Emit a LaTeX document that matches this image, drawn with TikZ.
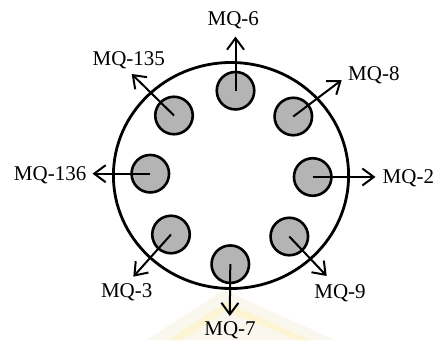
\documentclass[tikz,border=0pt]{standalone}
\usepackage{fontspec}
\setmainfont{Liberation Serif}
\usetikzlibrary{arrows.meta}
\definecolor{sensorfill}{RGB}{180,180,180}
\definecolor{markcream}{RGB}{250,248,238}
\definecolor{markyellow}{RGB}{252,244,210}
\tikzset{
  body/.style={line width=2.8pt, draw=black},
  sensor/.style={circle, draw=black, line width=2.6pt, fill=sensorfill,
                 minimum size=37.5pt, inner sep=0pt},
  ptr/.style={line width=2pt, -{Straight Barb[length=11.5pt,width=17pt,line width=2pt]}},
  lbl/.style={inner sep=0pt, font=\fontsize{21}{24}\selectfont}
}
\begin{document}
\begin{tikzpicture}[x=1pt,y=-1pt]
  \useasboundingbox (0,0) rectangle (435,340);
  \fill[white] (0,0) rectangle (435,340);

  % faint chevron mark in the background
  \fill[markcream] (146,340) -- (224,290) -- (335,340) -- cycle;
  \fill[markyellow] (168,340) -- (226,302) -- (310,340) -- (296,340) -- (226,311) -- (182,340) -- cycle;

  % housing
  \draw[body] (231,175.5) ellipse [x radius=117.6pt, y radius=113pt];

  % sensors
  \node[sensor] (s6)   at (235.5, 90.7) {};
  \node[sensor] (s8)   at (293.3,116.5) {};
  \node[sensor] (s2)   at (312.7,177)   {};
  \node[sensor] (s9)   at (289.3,236.5) {};
  \node[sensor] (s7)   at (230.3,264.2) {};
  \node[sensor] (s3)   at (171,  234.5) {};
  \node[sensor] (s136) at (150.3,173.7) {};
  \node[sensor] (s135) at (174,  115.5) {};

  % arrow tips
  \coordinate (t6)   at (235.5, 36.5);
  \coordinate (t8)   at (341.7, 80);
  \coordinate (t2)   at (375.5,177);
  \coordinate (t9)   at (326.7,276);
  \coordinate (t7)   at (229.8,316);
  \coordinate (t3)   at (133.3,276.7);
  \coordinate (t136) at (92.5, 173.7);
  \coordinate (t135) at (131.7, 74);

  \draw[ptr] (s6.center)   -- (t6);
  \draw[ptr] (s8.center)   -- (t8);
  \draw[ptr] (s2.center)   -- (t2);
  \draw[ptr] (s9.center)   -- (t9);
  \draw[ptr] (s7.center)   -- (t7);
  \draw[ptr] (s3.center)   -- (t3);
  \draw[ptr] (s136.center) -- (t136);
  \draw[ptr] (s135.center) -- (t135);

  % labels
  \node[lbl, anchor=base]      (l6)   at (233.3, 25.3) {MQ-6};
  \node[lbl, anchor=base west] (l8)   at (348,   80.8) {MQ-8};
  \node[lbl, anchor=base west] (l2)   at (382.5,183.5) {MQ-2};
  \node[lbl, anchor=base]      (l9)   at (340,  298.5) {MQ-9};
  \node[lbl, anchor=base]      (l7)   at (230,  335.5) {MQ-7};
  \node[lbl, anchor=base]      (l3)   at (126.7,297.5) {MQ-3};
  \node[lbl, anchor=base east] (l136) at (86.5, 180)   {MQ-136};
  \node[lbl, anchor=base]      (l135) at (128.8, 65)   {MQ-135};
\end{tikzpicture}
\end{document}
